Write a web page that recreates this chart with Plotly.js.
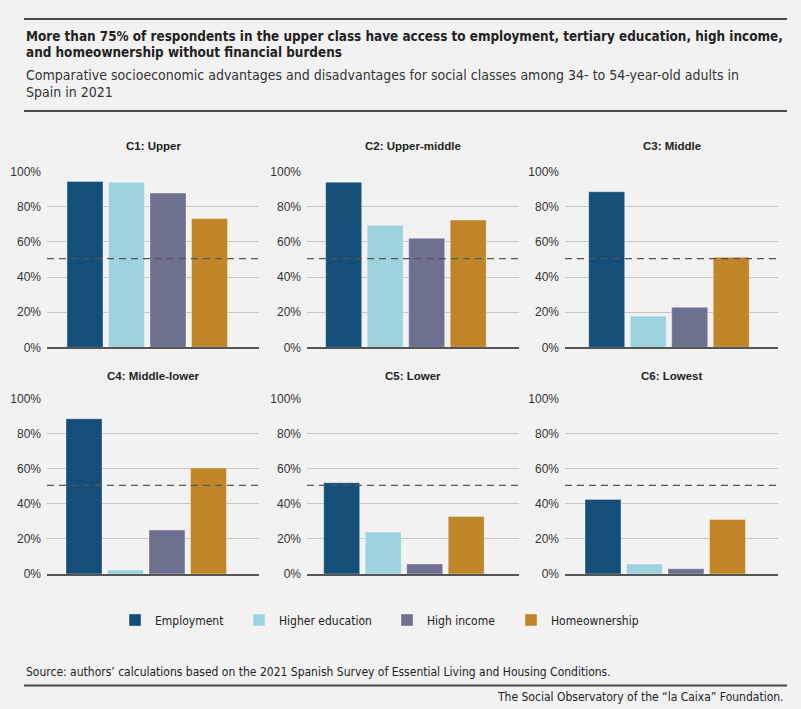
<!DOCTYPE html>
<html>
<head>
<meta charset="utf-8">
<script src="https://cdn.plot.ly/plotly-3.0.1.min.js"></script>
<style>
  html, body { margin: 0; padding: 0; background: #f2f2f2; }
  #chart { width: 801px; height: 709px; }
</style>
</head>
<body>
<div id="chart"></div>
<script>
// ---- Data ----
const categories = ["Employment", "Higher education", "High income", "Homeownership"];
const classes = ["C1: Upper", "C2: Upper-middle", "C3: Middle", "C4: Middle-lower", "C5: Lower", "C6: Lowest"];
const employment      = [94.4, 94.0, 88.6, 88.4, 52.0, 42.5];
const higherEducation = [94.0, 69.5, 17.8,  2.3, 23.9,  5.7];
const highIncome      = [87.8, 62.1, 22.8, 25.0,  5.7,  3.0];
const homeownership   = [73.3, 72.5, 51.3, 60.4, 32.8, 31.1];
const threshold = 50.5;
const yTickValues = [0, 20, 40, 60, 80, 100];
const yTickLabels = ["0%", "20%", "40%", "60%", "80%", "100%"];

const seriesValues = [employment, higherEducation, highIncome, homeownership];
const colors = ["#134f79", "#9dd3de", "#6e7090", "#c18628"];

// ---- Layout geometry ----
const W = 801, H = 709;
const colPx = [[47, 259], [307, 519], [565, 778]];
const rowPx = [[171.7, 347.3], [398.5, 574]];
const leftGapPx = [20, 18.7, 23.7, 19, 16.7, 20];
const stepPx = 41.5;
const fontMain = "'DejaVu Sans Condensed', 'Liberation Sans', sans-serif";
const fontAxis = "'Liberation Sans', Arial, sans-serif";

const py = px => 1 - px / H;
const pxX = px => px / W;

const traces = [];
const layout = {
  width: W, height: H,
  margin: {l: 0, r: 0, t: 0, b: 0},
  paper_bgcolor: "#f2f2f2",
  plot_bgcolor: "rgba(0,0,0,0)",
  barmode: "overlay",
  showlegend: true,
  shapes: [],
  annotations: []
};

classes.forEach((cls, i) => {
  const r = Math.floor(i / 3), c = i % 3;
  const n = i + 1;
  const xa = "xaxis" + (n === 1 ? "" : n);
  const ya = "yaxis" + (n === 1 ? "" : n);
  const xr = "x" + (n === 1 ? "" : n);
  const yr = "y" + (n === 1 ? "" : n);
  const wPx = colPx[c][1] - colPx[c][0];
  const start = -(leftGapPx[i] + 18) / stepPx;
  layout[xa] = {
    domain: [pxX(colPx[c][0]), pxX(colPx[c][1])],
    range: [start, start + wPx / stepPx],
    anchor: yr,
    showticklabels: false,
    ticks: "",
    showgrid: false,
    zeroline: false,
    showline: true,
    linecolor: "#555555",
    linewidth: 1.5,
    fixedrange: true
  };
  layout[ya] = {
    domain: [py(rowPx[r][1]), py(rowPx[r][0])],
    range: [0, 100],
    anchor: xr,
    tickvals: yTickValues,
    ticktext: yTickLabels,
    ticks: "",
    ticklabelstandoff: 5,
    tickfont: {family: fontAxis, size: 12, color: "#333333"},
    showgrid: true,
    gridcolor: "#c6c6c6",
    gridwidth: 1,
    zeroline: false,
    showline: false,
    fixedrange: true
  };
  seriesValues.forEach((vals, j) => {
    traces.push({
      type: "bar",
      name: categories[j],
      x: [j],
      y: [vals[i]],
      xaxis: xr,
      yaxis: yr,
      width: 0.867,
      marker: {color: colors[j], line: {color: "rgba(255,255,255,0.35)", width: 1}},
      showlegend: i === 0,
      legend: j === 0 ? "legend" : "legend" + (j + 1),
      hoverinfo: "skip"
    });
  });
  layout.shapes.push({
    type: "line", xref: xr + " domain", yref: yr,
    x0: 0, x1: 1, y0: threshold, y1: threshold,
    line: {color: "#555555", width: 1.2, dash: "7px,5px"},
    layer: "above"
  });
  layout.annotations.push({
    text: "<b>" + cls + "</b>",
    xref: "paper", yref: "paper",
    x: pxX((colPx[c][0] + colPx[c][1]) / 2), y: py(r === 0 ? 146 : 376),
    xanchor: "center", yanchor: "middle",
    showarrow: false,
    font: {family: fontAxis, size: 11.5, color: "#222222"}
  });
});

// Legends (one per category, placed along a row)
const legendX = [129, 253, 401, 525];
legendX.forEach((lx, j) => {
  const key = j === 0 ? "legend" : "legend" + (j + 1);
  layout[key] = {
    x: pxX(lx - 14), y: py(620),
    xanchor: "left", yanchor: "middle",
    orientation: "h",
    bgcolor: "rgba(0,0,0,0)",
    font: {family: fontMain, size: 12, color: "#222222"},
    itemclick: false, itemdoubleclick: false
  };
});

// Rules
[[19, 2], [111, 2], [685.5, 2]].forEach(([yy, lw]) => {
  layout.shapes.push({
    type: "line", xref: "paper", yref: "paper",
    x0: pxX(24), x1: pxX(787), y0: py(yy), y1: py(yy),
    line: {color: "#4a4a4a", width: lw}
  });
});

// Titles and notes
const textItems = [
  {t: "<b>More than 75% of respondents in the upper class have access to employment, tertiary education, high income,</b>", y: 36, size: 13.4, color: "#222222", x: 24, anchor: "left"},
  {t: "<b>and homeownership without financial burdens</b>", y: 53, size: 13.4, color: "#222222", x: 24, anchor: "left"},
  {t: "Comparative socioeconomic advantages and disadvantages for social classes among 34- to 54-year-old adults in", y: 75, size: 14, color: "#333333", x: 24, anchor: "left"},
  {t: "Spain in 2021", y: 92, size: 14, color: "#333333", x: 24, anchor: "left"},
  {t: "Source: authors\u2019 calculations based on the 2021 Spanish Survey of Essential Living and Housing Conditions.", y: 672, size: 12, color: "#222222", x: 24, anchor: "left"},
  {t: "The Social Observatory of the \u201cla Caixa\u201d Foundation.", y: 697, size: 12, color: "#222222", x: 786, anchor: "right"}
];
textItems.forEach(it => {
  layout.annotations.push({
    text: it.t, xref: "paper", yref: "paper",
    x: pxX(it.x), y: py(it.y), xanchor: it.anchor, yanchor: "middle",
    showarrow: false,
    font: {family: fontMain, size: it.size, color: it.color}
  });
});

Plotly.newPlot("chart", traces, layout, {displayModeBar: false, staticPlot: true});
</script>
</body>
</html>
